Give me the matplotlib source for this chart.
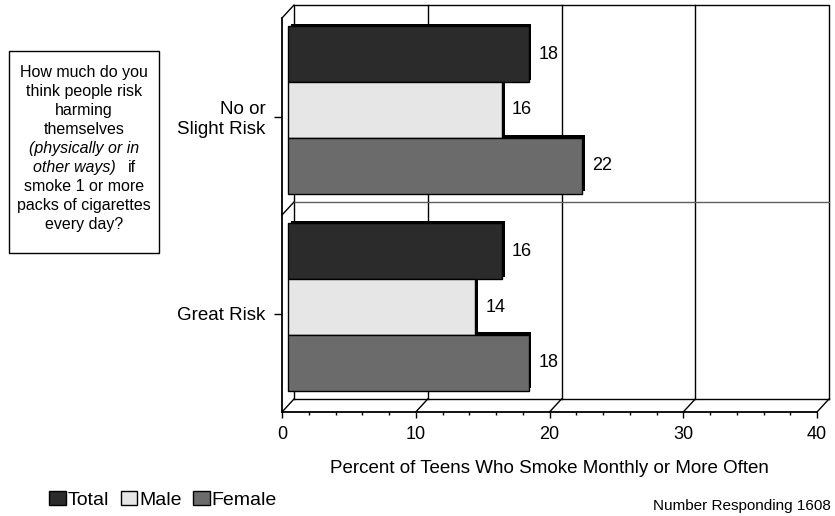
import matplotlib
matplotlib.use("Agg")
import matplotlib.pyplot as plt
import matplotlib.transforms as mtransforms
from matplotlib.patches import Rectangle, Patch

plt.rcParams['font.family'] = ['Liberation Sans', 'DejaVu Sans']

# data
categories = ["No or\nSlight Risk", "Great Risk"]
series = ["Total", "Male", "Female"]
total = [18, 16]
male = [16, 14]
female = [22, 18]
colors = ["#2b2b2b", "#e6e6e6", "#6b6b6b"]
xticks = [0, 10, 20, 30, 40]
xlabel = "Percent of Teens Who Smoke Monthly or More Often"
note = "Number Responding 1608"
question = ["How much do you", "think people risk", "harming", "themselves",
            "(physically or in", None, "smoke 1 or more",
            "packs of cigarettes", "every day?"]

W, H = 835, 516
fig = plt.figure(figsize=(W / 100, H / 100), dpi=100)
ax = fig.add_axes([282 / W, 1 - 412 / H, 535 / W, 394 / H])
ax.set_xlim(0, 40)
ax.set_ylim(1.5, -0.5)
ax.patch.set_visible(False)

# depth of the fake 3d box, in data units
DX = 40 * 12 / 535
DY = 2 * 13 / 394

# back wall, floor and left wall lines
line = dict(color='black', lw=1, clip_on=False, zorder=1)
ax.plot([DX, DX, 40 + DX, 40 + DX], [1.5 - DY, -0.5 - DY, -0.5 - DY, 1.5 - DY], **line)
ax.plot([DX, 40 + DX], [1.5 - DY, 1.5 - DY], **line)
for x in xticks[1:-1]:
    ax.plot([x + DX, x + DX], [-0.5 - DY, 1.5 - DY], **line)
ax.plot([DX, 40 + DX], [0.5 - DY, 0.5 - DY], color='#606060', lw=1, clip_on=False, zorder=1)
ax.plot([0, DX], [0.5, 0.5 - DY], **line)
ax.plot([0, DX], [-0.5, -0.5 - DY], **line)
for x in xticks:
    ax.plot([x, x + DX], [1.5, 1.5 - DY], **line)

# bars sit half way into the box
bar_h = 0.284
mid = mtransforms.offset_copy(ax.transData, fig=fig, x=6, y=6.5, units='dots')
shadow = mtransforms.offset_copy(ax.transData, fig=fig, x=8.5, y=9, units='dots')
for i, (vals, c) in enumerate(zip([total, male, female], colors)):
    ys = [k + (i - 1) * bar_h for k in range(len(categories))]
    ax.barh(ys, vals, height=bar_h, color='black', transform=shadow, clip_on=False, zorder=3)
    ax.barh(ys, vals, height=bar_h, color=c, edgecolor='black', lw=1,
            transform=mid, clip_on=False, zorder=4)
    for y, v in zip(ys, vals):
        ax.annotate(f"{v}", (v, y), xycoords=mid, xytext=(10, 0), textcoords='offset pixels',
                    va='center', ha='left', fontsize=13)

ax.spines['top'].set_visible(False)
ax.spines['right'].set_visible(False)
ax.spines['left'].set_linewidth(1.3)
ax.spines['bottom'].set_linewidth(1.3)

ax.set_xticks(xticks)
ax.set_xticks(range(0, 41, 2), minor=True)
ax.tick_params(axis='x', which='major', length=4, width=1, pad=6, labelsize=13)
ax.tick_params(axis='x', which='minor', length=2.5, width=1)
ax.set_yticks(range(len(categories)))
ax.set_yticklabels(categories)
ax.tick_params(axis='y', length=6, width=1, pad=6, labelsize=13.5)
ax.set_xlabel(xlabel, fontsize=13.5, labelpad=12)

# question box
fig.add_artist(Rectangle((9 / W, 1 - 253 / H), 150 / W, 202 / H, transform=fig.transFigure,
                         fill=False, edgecolor='black', lw=1))
for i, txt in enumerate(question):
    yy = 1 - (72 + 19.1 * i) / H
    if txt is None:
        fig.text(116 / W, yy, "other ways)", ha='right', va='center', fontsize=11.5, style='italic')
        fig.text(128 / W, yy, "if", ha='left', va='center', fontsize=11.5)
    else:
        fig.text(84 / W, yy, txt, ha='center', va='center', fontsize=11.5,
                 style='italic' if txt.startswith("(") else 'normal')

# legend and note
handles = [Patch(facecolor=c, edgecolor='black', lw=1) for c in colors]
fig.legend(handles, series, loc='center left', bbox_to_anchor=(49 / W, 1 - 500 / H), ncol=3,
           frameon=False, fontsize=14, handlelength=0.85, handleheight=0.7,
           handletextpad=0.1, columnspacing=0.6, borderpad=0, borderaxespad=0)
fig.text(831 / W, 1 - 506 / H, note, ha='right', va='center', fontsize=11)

fig.savefig("out.png", dpi=100)
